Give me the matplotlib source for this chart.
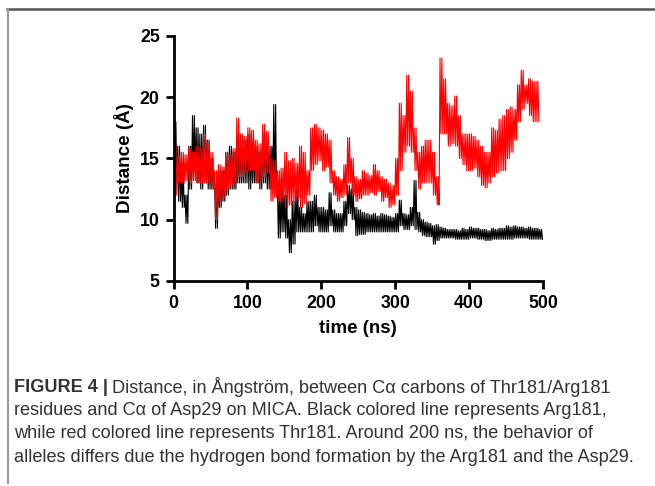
import numpy as np
import matplotlib
matplotlib.use("Agg")
import matplotlib.pyplot as plt
from matplotlib.lines import Line2D

# envelope (low / high) of each trace, read per 5 ns window
red_lo = [12.0, 13.0, 13.0, 13.2, 13.0, 13.2, 13.0, 13.0, 13.0, 13.0,
          12.5, 10.0, 11.5, 11.8, 12.5, 12.8, 13.0, 13.5, 13.5, 13.8,
          14.0, 14.0, 13.0, 13.3, 13.5, 13.8, 11.5, 11.8, 11.5, 11.8,
          11.0, 11.2, 11.5, 11.8, 11.0, 11.3, 12.0, 14.0, 14.5, 14.8,
          14.0, 14.3, 13.0, 12.0, 11.5, 11.8, 12.0, 13.0, 12.0, 11.5,
          11.7, 12.0, 12.0, 12.2, 12.0, 12.3, 11.5, 11.8, 11.0, 11.2,
          12.0, 14.0, 15.5, 16.0, 15.5, 14.0, 12.5, 13.0, 13.0, 13.0,
          12.0, 11.2, 17.0, 17.0, 16.0, 16.2, 16.0, 15.0, 14.5, 14.0,
          14.0, 14.2, 13.5, 12.8, 12.6, 13.0, 13.5, 13.8, 14.0, 14.0,
          15.0, 15.5, 16.5, 18.0, 19.0, 19.5, 18.5, 18.0, 18.0]
red_hi = [16.0, 15.2, 15.5, 15.3, 15.8, 15.5, 16.0, 15.8, 17.0, 16.3,
          15.5, 14.0, 14.5, 14.3, 15.5, 15.3, 15.8, 18.3, 17.0, 16.8,
          17.5, 17.3, 16.5, 16.2, 17.8, 17.2, 15.0, 14.8, 14.0, 14.2,
          15.5, 14.8, 15.0, 14.6, 16.0, 15.5, 14.0, 17.5, 17.8, 17.5,
          17.3, 17.0, 16.5, 14.0, 13.5, 13.3, 14.5, 16.7, 15.0, 13.5,
          13.3, 14.0, 13.8, 13.6, 14.5, 14.0, 13.5, 13.3, 13.0, 12.8,
          15.0, 19.5, 18.5, 21.8, 20.5, 17.5, 15.5, 16.0, 16.5, 16.5,
          15.5, 13.5, 23.2, 21.5, 19.5, 19.3, 20.1, 18.5, 17.0, 17.0,
          17.0, 16.8, 16.5, 16.0, 15.5, 15.5, 17.5, 17.3, 18.2, 18.5,
          19.0, 19.2, 19.0, 21.0, 22.2, 21.0, 21.5, 21.3, 21.3]

blk_lo = [13.0, 11.5, 11.0, 9.7, 12.5, 14.0, 13.0, 12.5, 13.0, 12.5,
          12.5, 9.3, 11.0, 11.5, 12.0, 12.5, 12.5, 13.0, 13.0, 13.0,
          12.5, 13.0, 13.0, 12.5, 13.0, 12.5, 12.5, 12.0, 8.5, 9.0,
          8.5, 7.3, 8.0, 9.0, 9.0, 9.0, 9.0, 9.0, 9.5, 9.0,
          9.0, 9.0, 9.5, 9.0, 9.0, 9.0, 9.5, 10.5, 10.0, 8.7,
          8.8, 8.8, 9.0, 9.0, 9.0, 9.0, 9.0, 9.0, 9.0, 9.0,
          9.0, 9.5, 9.2, 9.2, 9.5, 9.2, 9.0, 8.7, 8.6, 8.6,
          8.0, 8.3, 8.5, 8.5, 8.5, 8.5, 8.4, 8.4, 8.4, 8.4,
          8.5, 8.5, 8.4, 8.4, 8.3, 8.3, 8.4, 8.4, 8.4, 8.4,
          8.4, 8.4, 8.5, 8.5, 8.5, 8.5, 8.4, 8.4, 8.4, 8.4]
blk_hi = [18.0, 16.0, 14.0, 12.0, 16.0, 18.5, 17.5, 17.0, 17.7, 16.5,
          15.0, 13.0, 14.0, 14.0, 15.5, 16.0, 15.5, 16.0, 16.5, 16.5,
          17.0, 16.5, 16.0, 15.5, 17.0, 16.0, 16.0, 19.4, 12.5, 12.5,
          12.0, 10.0, 11.5, 12.5, 11.0, 10.5, 11.5, 11.5, 12.0, 11.0,
          11.0, 10.8, 12.2, 10.8, 10.5, 10.5, 11.5, 12.8, 12.5, 11.0,
          10.8, 10.6, 10.5, 10.4, 10.5, 10.3, 10.5, 10.4, 10.3, 10.2,
          10.5, 11.6, 10.5, 10.4, 11.0, 13.2, 10.6, 10.0, 9.8, 9.7,
          9.5, 9.6, 9.4, 9.3, 9.2, 9.2, 9.2, 9.1, 9.3, 9.2,
          9.4, 9.3, 9.3, 9.2, 9.2, 9.1, 9.3, 9.2, 9.3, 9.3,
          9.5, 9.4, 9.5, 9.4, 9.4, 9.3, 9.4, 9.3, 9.3, 9.2]

bin_ns = 5.0


def trace(lo, hi):
    # swing between the read low and high of each window, twice per window
    t, d = [], []
    for i, (a, b) in enumerate(zip(lo, hi)):
        t0 = i * bin_ns
        t += [t0 + 0.6, t0 + 1.85, t0 + 3.1, t0 + 4.35]
        d += [b, a, b, a]
    return np.array(t), np.array(d)


plt.rcParams['font.family'] = ['Liberation Sans', 'DejaVu Sans']

fig = plt.figure(figsize=(6.55, 4.86), dpi=100)
ax = fig.add_axes([0.265, 0.422, 0.564, 0.504])

t_b, d_b = trace(blk_lo, blk_hi)
t_r, d_r = trace(red_lo, red_hi)
ax.plot(t_b, d_b, color='black', lw=0.8)
ax.plot(t_r, d_r, color='#ff0000', lw=0.8)

ax.set_xlim(0, 500)
ax.set_ylim(5, 25)
ax.set_xticks([0, 100, 200, 300, 400, 500])
ax.set_yticks([5, 10, 15, 20, 25])
for s in ['top', 'right']:
    ax.spines[s].set_visible(False)
for s in ['left', 'bottom']:
    ax.spines[s].set_linewidth(2)
ax.tick_params(width=2, length=6, pad=4, labelsize=12.8)
for lab in ax.get_xticklabels() + ax.get_yticklabels():
    lab.set_fontweight('bold')
ax.set_xlabel('time (ns)', fontsize=13.5, fontweight='bold', labelpad=6)
ax.set_ylabel('Distance (Å)', fontsize=13.6, fontweight='bold', labelpad=4)

# frame of the figure panel
fig.add_artist(Line2D([7 / 655, 1], [1 - 9.5 / 486] * 2, color='#555555', lw=1.8))
fig.add_artist(Line2D([7.5 / 655] * 2, [1 - 9 / 486, 1 - 483 / 486], color='#999999', lw=1.5))

# caption
cap_color = '#333333'
cap_size = 13.1
lines = ["Distance, in Ångström, between Cα carbons of Thr181/Arg181",
         "residues and Cα of Asp29 on MICA. Black colored line represents Arg181,",
         "while red colored line represents Thr181. Around 200 ns, the behavior of",
         "alleles differs due the hydrogen bond formation by the Arg181 and the Asp29."]
x0 = 14 / 655
ys = [387, 410, 433, 457]
head = fig.text(x0, 1 - ys[0] / 486, "FIGURE 4 |", fontsize=cap_size, fontweight='bold',
                color=cap_color, va='center')
fig.canvas.draw()
bb = head.get_window_extent(fig.canvas.get_renderer())
fig.text(bb.x1 / fig.bbox.width + 4 / 655, 1 - ys[0] / 486, lines[0], fontsize=cap_size,
         color=cap_color, va='center')
for y, txt in zip(ys[1:], lines[1:]):
    fig.text(x0, 1 - y / 486, txt, fontsize=cap_size, color=cap_color, va='center')

fig.savefig('out.png', dpi=100)
